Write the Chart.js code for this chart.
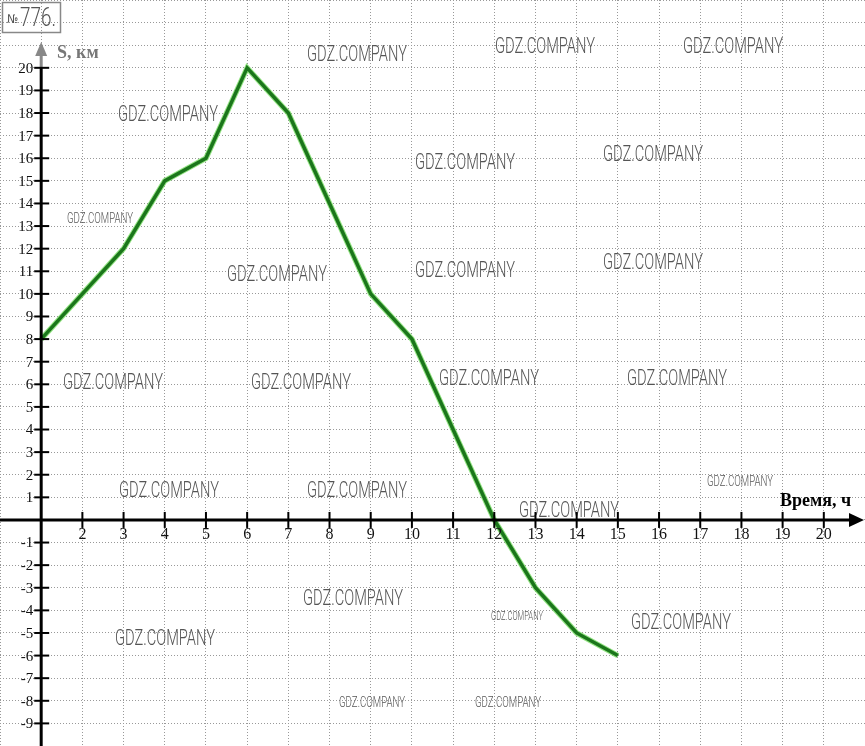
<!DOCTYPE html>
<html>
<head>
<meta charset="utf-8">
<script src="https://cdn.jsdelivr.net/npm/chart.js@4.4.0/dist/chart.umd.min.js"></script>
<style>
html,body{margin:0;padding:0;background:#fff;}
#wrap{width:865px;height:746px;position:relative;}
</style>
</head>
<body>
<div id="wrap"><canvas id="c" width="865" height="746"></canvas></div>
<script>
// Data
const timeHours = [1, 2, 3, 4, 5, 6, 7, 8, 9, 10, 11, 12, 13, 14, 15];
const distanceKm = [8, 10, 12, 15, 16, 20, 18, 14, 10, 8, 4, 0, -3, -5, -6];
const xTickLabels = [2, 3, 4, 5, 6, 7, 8, 9, 10, 11, 12, 13, 14, 15, 16, 17, 18, 19, 20];
const yTickLabels = [-9, -8, -7, -6, -5, -4, -3, -2, -1, 1, 2, 3, 4, 5, 6, 7, 8, 9, 10, 11, 12, 13, 14, 15, 16, 17, 18, 19, 20];
const xAxisTitle = 'Время, ч';
const yAxisTitle = 'S, км';
const problemNumber = '776.';
const watermarkText = 'GDZ.COMPANY';
// watermark placements: [x, y, width, size]
const watermarks = [
  [357,53,100,21],[545,45,100,21],[733,45,100,21],[168,113,100,21],
  [465,161,100,21],[653,153,100,21],[100,218,66,13],[277,273,100,21],
  [465,269,100,21],[653,261,100,21],[113,381,100,21],[301,381,100,21],
  [489,377,100,21],[677,377,100,21],[740,481,66,13],[169,489,100,21],
  [357,489,100,21],[569,509,100,21],[353,597,100,21],[517,616,52,11],
  [681,621,100,21],[165,637,100,21],[372,702,66,13],[508,702,66,13]
];

const points = timeHours.map((t, i) => ({x: t, y: distanceKm[i]}));

const axesPlugin = {
  id: 'axesPlugin',
  afterDraw(chart) {
    const ctx = chart.ctx;
    const xs = chart.scales.x, ys = chart.scales.y;
    const x0 = xs.getPixelForValue(1);
    const y0 = ys.getPixelForValue(0);
    const yTop = ys.getPixelForValue(20);
    ctx.save();
    // watermarks
    ctx.fillStyle = '#555';
    ctx.textAlign = 'center';
    ctx.textBaseline = 'alphabetic';
    watermarks.forEach(w => {
      ctx.font = "300 " + Math.round(w[3] * 1.05) + "px Roboto, 'Liberation Sans Narrow', sans-serif";
      ctx.fillText(watermarkText, w[0], w[1] + w[3] * 0.36, w[2]);
    });
    // y axis
    ctx.strokeStyle = '#000';
    ctx.lineWidth = 3;
    ctx.beginPath();
    ctx.moveTo(x0, chart.height);
    ctx.lineTo(x0, yTop);
    ctx.stroke();
    ctx.strokeStyle = '#888';
    ctx.beginPath();
    ctx.moveTo(x0, yTop);
    ctx.lineTo(x0, 52);
    ctx.stroke();
    ctx.fillStyle = '#888';
    ctx.beginPath();
    ctx.moveTo(x0, 42);
    ctx.lineTo(x0 - 6, 56);
    ctx.lineTo(x0 + 6, 56);
    ctx.closePath();
    ctx.fill();
    // x axis
    ctx.strokeStyle = '#000';
    ctx.beginPath();
    ctx.moveTo(0, y0);
    ctx.lineTo(852, y0);
    ctx.stroke();
    ctx.fillStyle = '#000';
    ctx.beginPath();
    ctx.moveTo(864, y0);
    ctx.lineTo(849, y0 - 7);
    ctx.lineTo(849, y0 + 7);
    ctx.closePath();
    ctx.fill();
    // y ticks and labels
    ctx.lineWidth = 2;
    ctx.font = "15px 'Liberation Serif', serif";
    ctx.textAlign = 'right';
    ctx.textBaseline = 'middle';
    yTickLabels.forEach(v => {
      const py = ys.getPixelForValue(v);
      ctx.strokeStyle = '#000';
      ctx.beginPath();
      ctx.moveTo(x0 - 7, py);
      ctx.lineTo(x0 + 8, py);
      ctx.stroke();
      ctx.fillStyle = '#111';
      ctx.fillText(String(v), x0 - 8, py + 1);
    });
    // x ticks and labels
    ctx.font = "16px 'Liberation Serif', serif";
    ctx.textAlign = 'center';
    xTickLabels.forEach(v => {
      const px = xs.getPixelForValue(v);
      ctx.strokeStyle = '#000';
      ctx.beginPath();
      ctx.moveTo(px, y0 - 8);
      ctx.lineTo(px, y0 + 8);
      ctx.stroke();
      ctx.fillStyle = '#111';
      ctx.fillText(String(v), px, y0 + 15);
    });
    // axis titles
    ctx.font = "bold 18px 'Liberation Serif', serif";
    ctx.textAlign = 'left';
    ctx.fillStyle = '#777';
    ctx.fillText(yAxisTitle, 57, 53);
    ctx.fillStyle = '#000';
    ctx.fillText(xAxisTitle, 780, 501);
    // problem number box
    ctx.strokeStyle = '#888';
    ctx.lineWidth = 1.5;
    ctx.strokeRect(2.5, 2.5, 58, 30);
    ctx.fillStyle = '#555';
    ctx.font = "12px 'Liberation Sans Narrow', 'DejaVu Sans Condensed', sans-serif";
    ctx.fillText('№', 7, 20);
    ctx.font = "300 25px Roboto, 'Liberation Sans Narrow', sans-serif";
    ctx.textBaseline = 'alphabetic';
    ctx.fillText(problemNumber, 20, 26, 36);
    ctx.restore();
  }
};

new Chart(document.getElementById('c'), {
  type: 'line',
  data: {
    datasets: [
      {
        data: points,
        borderColor: '#1b761b',
        borderWidth: 3.5,
        pointRadius: 0,
        tension: 0,
        fill: false,
        order: 0
      },
      {
        data: points,
        borderColor: 'rgba(120,220,100,0.8)',
        borderWidth: 5.5,
        pointRadius: 0,
        tension: 0,
        fill: false,
        order: 1
      }
    ]
  },
  options: {
    responsive: false,
    animation: false,
    layout: {padding: 0},
    plugins: {legend: {display: false}, tooltip: {enabled: false}},
    scales: {
      x: {
        type: 'linear',
        min: 0,
        max: 21,
        ticks: {display: false, stepSize: 1},
        border: {display: false, dash: [1, 2]},
        grid: {color: '#999', lineWidth: 1, drawTicks: false}
      },
      y: {
        type: 'linear',
        min: -10,
        max: 23,
        ticks: {display: false, stepSize: 1},
        border: {display: false, dash: [1, 2]},
        grid: {color: '#999', lineWidth: 1, drawTicks: false}
      }
    }
  },
  plugins: [axesPlugin]
});
</script>
</body>
</html>
